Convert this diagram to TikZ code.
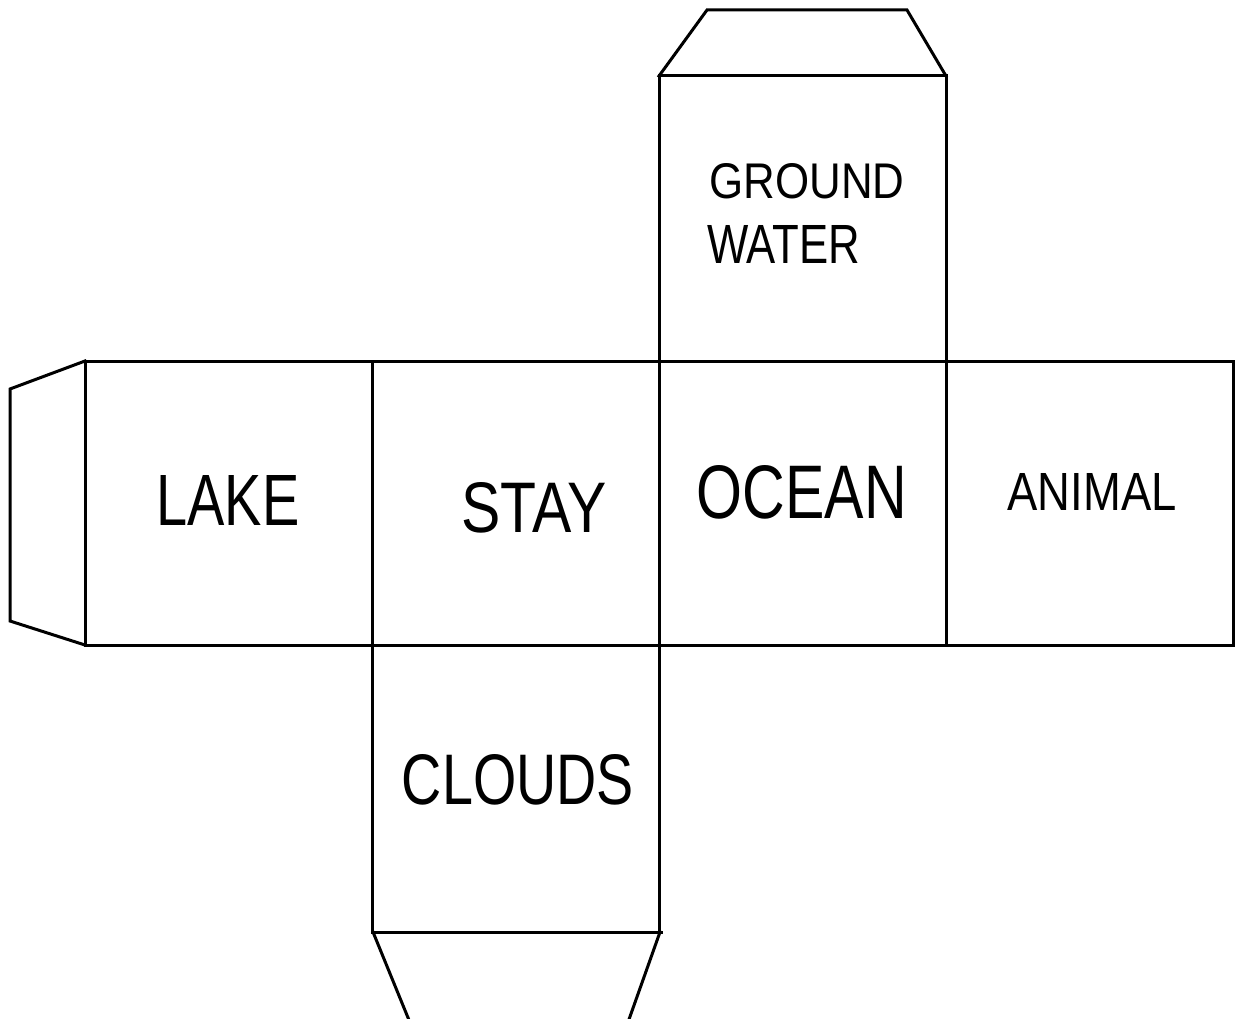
\documentclass[tikz,border=0pt]{standalone}
\usepackage{fontspec}
\setmainfont{Liberation Sans}
\begin{document}
\begin{tikzpicture}[x=1pt,y=-1pt,
  edge/.style={line width=3pt,line join=miter,line cap=rect},
  label/.style={inner sep=0pt,anchor=center}]
\useasboundingbox (0,0) rectangle (1236,1019);
\fill[white] (0,0) rectangle (1236,1019);
% tabs
\draw[edge] (659,76) -- (707,10) -- (907,10) -- (946,76);
\draw[edge] (85,361) -- (10,389) -- (10,621) -- (85,645);
\draw[edge] (373,932) -- (411,1025);
\draw[edge] (660,932) -- (627,1025);
% squares
\draw[edge] (659,76) rectangle (946,361);
\draw[edge] (85,361) rectangle (1233,645);
\draw[edge] (372,361) -- (372,932);
\draw[edge] (659,361) -- (659,932);
\draw[edge] (946,361) -- (946,645);
\draw[edge] (372,932) -- (661,932);
% labels
\node[label] (lake) at (228,500) {\resizebox{143pt}{50pt}{LAKE}};
\node[label] (stay) at (534,508) {\resizebox{145pt}{50pt}{STAY}};
\node[label] (ocean) at (802,492) {\resizebox{210pt}{53pt}{OCEAN}};
\node[label] (animal) at (1092,492) {\resizebox{169pt}{37pt}{ANIMAL}};
\node[label] (clouds) at (518,780) {\resizebox{232pt}{50pt}{CLOUDS}};
\node[label] (ground) at (807,181) {\resizebox{195pt}{35pt}{GROUND}};
\node[label,anchor=west] (water) at (707,244) {\resizebox{153pt}{38pt}{WATER}};
\end{tikzpicture}
\end{document}
